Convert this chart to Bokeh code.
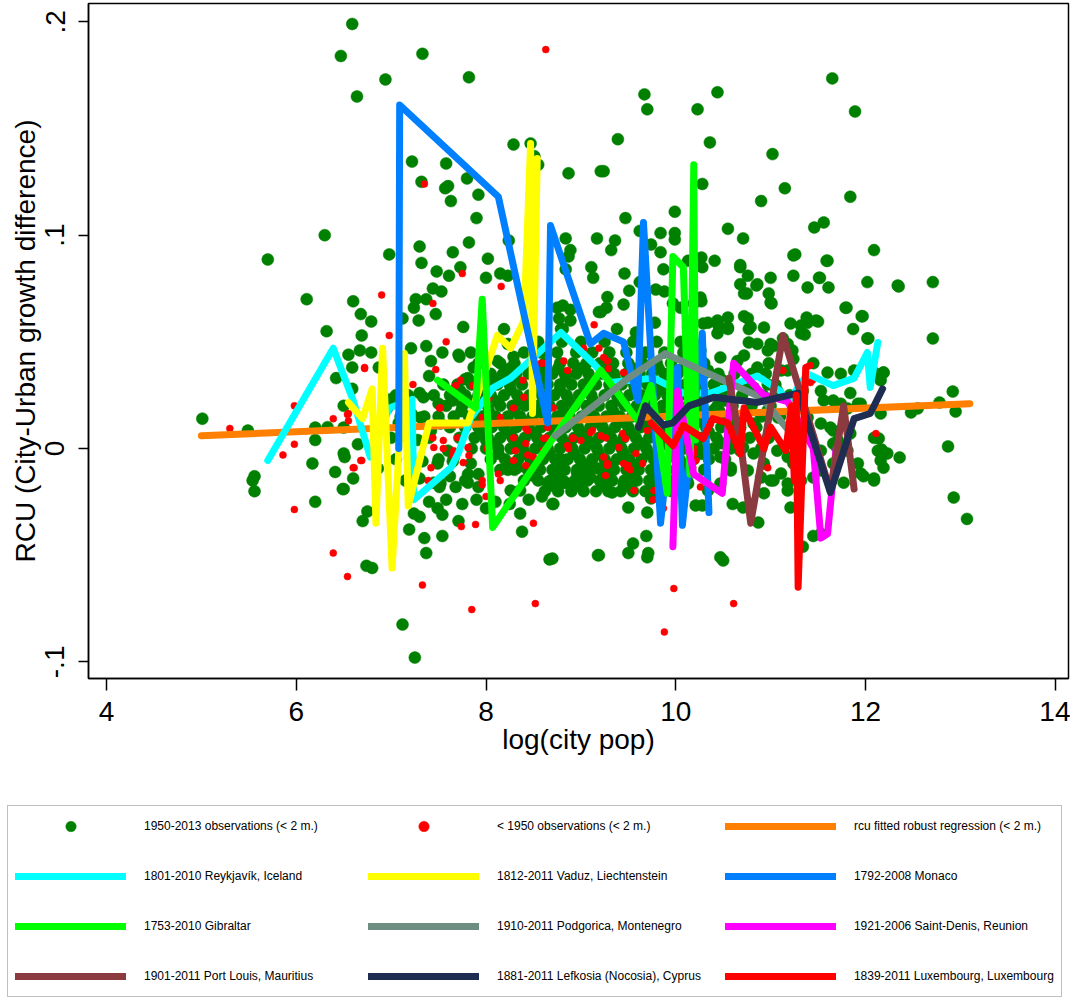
from bokeh.plotting import figure
from bokeh.models import Range1d, FixedTicker, Legend, LegendItem
from bokeh.embed import file_html
from bokeh.resources import INLINE

# ---------------- data (log city pop, RCU) ----------------
green_outer = [
    (6.59, 0.199), (6.47, 0.184), (7.33, 0.185), (6.94, 0.173), (7.82, 0.174), (6.64, 0.165),
    (8.29, 0.1425), (8.47, 0.143), (8.51, 0.137), (8.55, 0.133), (8.87, 0.129), (9.21, 0.130),
    (7.22, 0.1345), (7.58, 0.1336), (7.80, 0.1266), (7.60, 0.123), (7.57, 0.122), (7.92, 0.119),
    (7.63, 0.116), (7.90, 0.108), (6.30, 0.100), (5.70, 0.0886), (6.98, 0.091), (7.30, 0.0947),
    (7.82, 0.0966), (7.65, 0.092), (7.32, 0.087), (8.02, 0.089), (7.48, 0.083), (7.73, 0.085),
    (7.61, 0.081), (8.00, 0.080), (8.15, 0.082), (8.23, 0.081), (8.24, 0.0975), (8.84, 0.0985),
    (8.89, 0.093), (8.87, 0.090), (8.84, 0.084), (9.11, 0.085), (9.13, 0.080), (9.17, 0.0985),
    (7.44, 0.075), (7.53, 0.0736), (6.11, 0.070), (6.60, 0.069), (7.26, 0.070), (7.37, 0.070),
    (7.24, 0.066), (6.68, 0.063), (6.79, 0.0595), (7.29, 0.060), (7.47, 0.063), (7.12, 0.061),
    (6.32, 0.055), (6.69, 0.053), (7.76, 0.057), (8.19, 0.056), (8.81, 0.067), (8.89, 0.065),
    (8.77, 0.061), (8.89, 0.060), (8.81, 0.056), (9.19, 0.064), (7.32, 0.125),
    (9.67, 0.166), (9.70, 0.159), (10.23, 0.159), (10.44, 0.167), (9.39, 0.145), (10.36, 0.1435),
    (11.65, 0.1735), (11.89, 0.158), (11.02, 0.138), (9.24, 0.130), (10.28, 0.124), (11.15, 0.122),
    (10.90, 0.116), (11.84, 0.118), (9.99, 0.111), (9.47, 0.108), (10.55, 0.103), (10.71, 0.0985),
    (11.46, 0.1036), (11.56, 0.106), (9.99, 0.101), (9.99, 0.098), (9.84, 0.101), (9.36, 0.0975),
    (9.32, 0.093), (9.62, 0.102), (9.74, 0.0956), (9.84, 0.092), (12.09, 0.093), (11.26, 0.091),
    (11.59, 0.088), (10.41, 0.088), (10.28, 0.085), (10.27, 0.0895), (10.13, 0.088), (10.68, 0.085),
    (9.46, 0.082), (9.87, 0.084), (9.51, 0.074), (9.79, 0.0745), (9.88, 0.0736), (9.62, 0.078),
    (10.85, 0.0764), (10.75, 0.0727), (11.52, 0.080), (11.39, 0.0755), (11.61, 0.0755),
    (12.02, 0.078), (12.35, 0.076), (12.71, 0.078), (11.01, 0.068), (10.27, 0.069), (9.28, 0.071),
    (9.27, 0.066), (9.21, 0.064), (9.45, 0.0675), (9.97, 0.068), (11.80, 0.066), (11.96, 0.062),
    (10.72, 0.062), (10.79, 0.057), (11.21, 0.0586), (11.38, 0.0614), (11.50, 0.0595),
    (11.32, 0.0577), (11.36, 0.0534), (11.87, 0.056), (12.03, 0.0516), (12.71, 0.0516),
    (10.77, 0.0497), (11.00, 0.049), (10.45, 0.0577), (10.55, 0.056), (10.34, 0.059), (9.78, 0.059),
    (9.58, 0.0544), (9.38, 0.056), (8.79, 0.056),
]
green_right = [
    (12.92, 0.0267), (12.78, 0.0216), (12.48, 0.0169), (12.55, 0.0188), (12.95, 0.0173),
    (12.87, 0.001), (12.93, -0.023), (13.07, -0.033), (12.36, -0.0042), (12.19, -0.009),
    (12.09, -0.014), (11.98, -0.013), (12.17, -0.0005), (12.14, 0.0047), (12.19, 0.0356),
    (12.16, 0.032), (11.70, 0.0005), (11.77, -0.016), (11.53, -0.040), (11.45, -0.041),
    (11.34, -0.046), (11.18, -0.0197), (11.21, -0.0277), (11.11, -0.0117), (11.00, -0.015),
    (10.93, -0.021), (10.87, -0.0347), (10.79, -0.026), (10.71, -0.0277), (10.60, -0.026),
    (10.50, -0.0525), (10.47, -0.051), (9.50, -0.0277), (9.70, -0.030), (9.69, -0.041),
    (9.55, -0.0445), (9.50, -0.049), (9.70, -0.051), (9.71, -0.049), (9.19, -0.050), (8.70, -0.0516),
    (8.71, -0.026), (8.84, -0.016), (8.92, -0.016), (8.96, -0.0117), (9.07, -0.014), (9.24, -0.0173),
    (9.33, -0.0206), (9.45, -0.0164), (9.51, -0.0173), (9.76, -0.021), (9.74, -0.0234),
    (10.21, -0.0267), (10.28, -0.0267), (10.58, -0.0103), (10.71, 0.0005), (10.93, -0.007),
    (11.24, -0.007), (11.34, 0.027), (11.56, 0.0225), (11.63, 0.0098), (11.71, 0.0038),
    (11.74, 0.021), (11.81, 0.0188), (11.95, 0.021), (12.09, 0.0356),
    (11.24, 0.0905), (11.60, 0.088), (11.51, 0.080), (12.34, 0.0764), (11.79, 0.066),
    (11.97, 0.062), (11.39, 0.059), (11.48, 0.060), (11.32, 0.054), (12.02, 0.0516),
    (10.68, 0.086), (10.72, 0.0727), (11.00, 0.0684), (10.76, 0.061), (10.77, 0.056),
    (10.93, 0.0567), (11.13, 0.0516), (11.18, 0.049), (11.23, 0.046), (11.03, 0.048),
    (11.24, 0.042), (10.97, 0.046), (10.86, 0.049), (10.72, 0.0436), (10.65, 0.041),
    (10.86, 0.038), (10.98, 0.040), (11.11, 0.0366), (11.18, 0.0366), (11.45, 0.040),
    (11.60, 0.0356), (11.74, 0.035), (11.88, 0.0366), (12.19, 0.0356), (11.53, 0.027),
    (11.66, 0.0225), (11.84, 0.026), (11.92, 0.021), (12.16, 0.0164), (11.39, 0.0145),
    (11.53, 0.0117), (11.66, 0.0084), (11.84, 0.007), (12.09, 0.005), (12.13, -0.001),
    (12.16, -0.0056), (12.23, -0.0023), (11.53, -0.001), (11.66, 0.0023), (11.81, -0.001),
    (11.92, -0.007), (11.95, -0.0117), (12.09, -0.015), (11.66, -0.007), (11.53, -0.0103),
    (10.97, 0.030), (11.07, 0.027), (10.82, 0.0286), (10.97, 0.018), (11.08, 0.0145),
    (10.82, 0.0117), (10.68, 0.0098), (10.97, 0.005), (11.07, -0.001), (11.18, -0.004),
    (10.82, -0.0023), (10.68, -0.001), (10.76, -0.0103), (10.90, -0.0136), (11.03, -0.015),
    (11.18, -0.0164), (11.32, -0.015), (11.45, -0.0136), (10.47, -0.004), (10.58, -0.009),
    (10.47, -0.0164), (10.34, -0.0197), (10.13, -0.0164), (10.40, 0.018), (10.34, 0.0117),
    (10.26, 0.024), (10.19, 0.033), (10.34, 0.0366), (10.47, 0.0427), (10.26, 0.046),
    (10.13, 0.047), (10.44, 0.054), (10.29, 0.0586), (10.13, 0.0567), (10.05, 0.066),
    (10.19, 0.068), (10.26, 0.0708), (10.44, 0.060), (10.55, 0.0567), (10.55, 0.0614),
    (10.68, 0.077), (10.76, 0.081), (10.86, 0.077), (10.98, 0.0727), (11.00, 0.080), (11.24, 0.081),
]
green_left = [
    (5.01, 0.014), (5.49, 0.0084), (5.56, -0.013), (5.54, -0.015), (5.56, -0.020), (6.20, 0.004),
    (6.17, -0.007), (6.20, -0.025), (6.41, -0.011), (6.49, -0.019), (6.65, 0.002), (6.51, -0.004),
    (6.33, 0.010), (6.42, 0.033), (6.55, 0.044), (6.59, 0.038), (6.67, 0.046), (6.79, 0.045),
    (6.59, 0.028), (6.75, -0.0295), (6.70, -0.034), (6.74, -0.055), (6.80, -0.056),
    (7.12, -0.0825), (7.25, -0.098), (7.21, 0.047), (7.37, 0.048), (7.54, 0.045), (7.42, 0.041),
    (7.71, 0.044), (7.84, 0.045), (7.40, 0.034), (7.24, -0.0305), (7.30, -0.032), (7.19, -0.038),
    (7.35, -0.042), (7.37, -0.049), (7.54, -0.041), (7.49, -0.028), (7.54, -0.031), (7.71, -0.034),
    (7.68, -0.018), (7.51, -0.018), (7.81, -0.016), (7.92, -0.018), (8.00, -0.028), (8.26, -0.0197),
    (8.36, -0.0305), (8.38, -0.039), (8.59, -0.0225), (8.70, -0.026), (8.67, -0.052), (9.18, -0.050),
    (8.79, -0.005), (8.97, -0.011), (8.92, -0.016), (8.82, -0.016), (8.50, -0.0127), (8.65, -0.016),
    (9.10, -0.0136), (9.18, -0.0094), (7.84, -0.007), (7.81, -0.012), (8.23, -0.010), (8.33, -0.009),
    (7.60, -0.001), (7.66, -0.004), (8.00, 0.004), (6.50, 0.0098), (6.20, 0.0098), (6.50, -0.0023),
    (6.50, -0.019), (7.72, 0.043), (7.87, 0.038), (8.75, 0.066), (8.23, 0.049), (8.12, 0.041),
    (8.29, 0.043), (8.15, 0.033), (6.99, 0.023), (6.96, 0.019), (7.08, 0.012), (7.34, 0.024),
    (7.31, 0.0145), (7.50, 0.021), (7.52, 0.0117), (7.42, 0.0084), (7.65, 0.0225), (7.73, 0.027),
    (7.81, 0.033), (7.92, 0.040), (7.49, -0.007), (7.52, -0.0164), (8.36, -0.0197), (6.87, 0.038),
    (6.50, 0.020), (6.86, -0.0094), (6.60, -0.014),
    (7.05, 0.025), (7.18, 0.025), (7.30, 0.026), (7.10, 0.015), (7.22, 0.016), (7.35, 0.015),
    (7.00, 0.005), (7.15, 0.006), (7.28, 0.004), (7.40, 0.005), (7.05, -0.005), (7.20, -0.004),
    (7.33, -0.006), (7.50, -0.005), (7.65, -0.006), (7.15, -0.015), (7.30, -0.014), (7.45, -0.016),
    (7.62, -0.013), (7.78, -0.015), (7.92, -0.012), (7.40, -0.025), (7.58, -0.024), (7.75, -0.026),
    (7.90, -0.024), (8.10, -0.025), (8.25, -0.026), (8.45, -0.024),
]
# dense core: y level -> x values read along that band
core_rows = {
    0.050: [8.55, 8.80, 9.00, 9.25, 9.55, 9.80, 10.05],
    0.045: [8.40, 8.58, 8.75, 8.95, 9.12, 9.30, 9.48, 9.68, 9.88, 10.08],
    0.040: [8.15, 8.30, 8.48, 8.62, 8.78, 8.92, 9.06, 9.20, 9.34, 9.50, 9.65, 9.80, 9.95, 10.12, 10.30],
    0.0375: [8.25, 8.52, 8.76, 9.00, 9.27, 9.55, 9.82, 10.08],
    0.035: [8.05, 8.18, 8.32, 8.45, 8.58, 8.70, 8.83, 8.95, 9.08, 9.22, 9.35, 9.48, 9.62, 9.75, 9.88,
            10.02, 10.15, 10.30, 10.45, 10.62, 10.80, 10.95],
    0.0325: [7.78, 8.05, 8.31, 8.58, 8.84, 9.10, 9.36, 9.62, 9.90, 10.18, 10.48],
    0.030: [7.55, 7.70, 7.85, 7.98, 8.12, 8.25, 8.38, 8.52, 8.65, 8.78, 8.90, 9.03, 9.16, 9.30, 9.43,
            9.56, 9.70, 9.83, 9.97, 10.10, 10.25, 10.40, 10.57, 10.75, 11.05],
    0.0275: [7.68, 7.98, 8.26, 8.52, 8.78, 9.04, 9.31, 9.57, 9.84, 10.12, 10.42],
    0.025: [7.45, 7.62, 7.78, 7.92, 8.05, 8.19, 8.33, 8.46, 8.59, 8.72, 8.85, 8.98, 9.11, 9.25, 9.38,
            9.51, 9.64, 9.78, 9.91, 10.05, 10.20, 10.35, 10.52, 10.70, 10.92, 11.20],
    0.0225: [7.82, 8.09, 8.35, 8.61, 8.87, 9.13, 9.39, 9.66, 9.93, 10.21, 10.52],
    0.020: [7.58, 7.75, 7.88, 8.02, 8.15, 8.28, 8.41, 8.54, 8.67, 8.80, 8.93, 9.06, 9.19, 9.32, 9.46,
            9.59, 9.72, 9.86, 9.99, 10.13, 10.28, 10.44, 10.60, 10.80, 11.00],
    0.0175: [7.74, 8.03, 8.30, 8.56, 8.82, 9.08, 9.34, 9.61, 9.87, 10.15, 10.46],
    0.015: [7.50, 7.66, 7.82, 7.96, 8.10, 8.23, 8.36, 8.49, 8.62, 8.75, 8.88, 9.01, 9.14, 9.27, 9.41,
            9.54, 9.67, 9.80, 9.94, 10.08, 10.22, 10.38, 10.55, 10.72, 10.90, 11.10],
    0.0125: [7.86, 8.13, 8.39, 8.65, 8.91, 9.17, 9.43, 9.70, 9.97, 10.25, 10.56],
    0.010: [7.62, 7.78, 7.92, 8.06, 8.19, 8.32, 8.45, 8.58, 8.71, 8.84, 8.97, 9.10, 9.23, 9.36, 9.50,
            9.63, 9.76, 9.90, 10.03, 10.17, 10.32, 10.48, 10.65, 10.85],
    0.0075: [7.95, 8.22, 8.48, 8.74, 9.00, 9.26, 9.52, 9.79, 10.06, 10.35],
    0.005: [7.72, 7.88, 8.02, 8.15, 8.28, 8.41, 8.54, 8.67, 8.80, 8.93, 9.06, 9.19, 9.32, 9.45, 9.58,
            9.72, 9.85, 9.98, 10.12, 10.27, 10.43, 10.60, 10.78, 10.98],
    0.0025: [8.07, 8.33, 8.59, 8.85, 9.11, 9.37, 9.63, 9.89, 10.17, 10.48],
    0.000: [7.85, 8.00, 8.13, 8.26, 8.39, 8.52, 8.65, 8.78, 8.91, 9.04, 9.17, 9.30, 9.43, 9.56, 9.69,
            9.82, 9.95, 10.09, 10.24, 10.40, 10.58, 10.90],
    -0.0025: [8.13, 8.41, 8.67, 8.93, 9.19, 9.45, 9.71, 9.97, 10.27],
    -0.005: [8.05, 8.20, 8.34, 8.47, 8.60, 8.73, 8.86, 8.99, 9.12, 9.25, 9.38, 9.51, 9.64, 9.77, 9.90,
             10.04, 10.19, 10.35, 10.52],
    -0.0075: [8.24, 8.51, 8.77, 9.03, 9.29, 9.55, 9.81, 10.08],
    -0.010: [8.15, 8.30, 8.44, 8.57, 8.70, 8.83, 8.96, 9.09, 9.22, 9.35, 9.48, 9.61, 9.74, 9.87, 10.00,
             10.14, 10.30],
    -0.0125: [8.48, 8.75, 9.01, 9.27, 9.53, 9.79, 10.05],
    -0.015: [8.40, 8.55, 8.68, 8.81, 8.94, 9.07, 9.20, 9.33, 9.46, 9.59, 9.72, 9.85, 9.98, 10.12],
    -0.0175: [8.70, 8.97, 9.23, 9.49, 9.75, 9.90],
    -0.020: [8.62, 8.76, 8.90, 9.03, 9.16, 9.29, 9.42, 9.55, 9.68, 9.82, 9.96],
}
red_obs = [
    (8.63, 0.187), (7.35, 0.124), (9.14, 0.058), (7.75, 0.082), (8.16, 0.076), (6.90, 0.072),
    (7.44, 0.068), (6.98, 0.053), (7.58, 0.050), (6.72, 0.038), (7.47, 0.037), (7.23, 0.030),
    (6.39, 0.014), (6.55, 0.0164), (6.55, 0.013), (6.68, -0.0056), (6.60, -0.009), (7.52, 0.019),
    (7.68, 0.0295), (7.73, 0.032), (7.86, 0.0295), (7.87, 0.019), (7.96, 0.0145), (7.44, 0.005),
    (7.55, 0.0038), (7.55, 0.0), (7.45, 0.0005), (7.66, -0.001), (7.70, 0.005), (7.81, 0.0005),
    (7.82, -0.0033), (7.76, -0.0066), (7.65, -0.0033), (7.42, -0.009), (7.39, -0.015),
    (8.03, 0.0234), (8.15, 0.0145), (8.29, 0.019), (8.39, 0.032), (8.29, 0.005), (8.31, -0.001),
    (8.42, 0.0023), (8.44, 0.0084), (8.50, -0.004), (8.60, -0.001), (8.65, 0.0098), (8.63, 0.005),
    (8.86, 0.0014), (8.92, 0.005), (9.00, 0.0038), (9.10, 0.0075), (8.58, 0.040), (8.82, 0.041),
    (8.86, 0.0366), (9.03, 0.047), (8.13, -0.012), (8.15, -0.015), (7.96, -0.015), (7.96, -0.017),
    (8.29, -0.0056), (9.24, 0.0427), (9.28, 0.041), (9.29, 0.0375), (9.45, 0.0356), (9.21, 0.006),
    (9.26, 0.005), (9.40, 0.0005), (9.44, 0.007), (9.58, -0.0023), (9.24, -0.004), (9.28, -0.007),
    (9.45, -0.007), (9.49, -0.009), (9.65, -0.007), (9.56, -0.0197), (9.26, -0.0127), (9.77, -0.0197),
    (11.13, 0.0366), (12.11, 0.007), (10.97, -0.009), (11.42, 0.031), (10.19, -0.0023), (10.26, -0.018),
    (5.30, 0.0094), (5.86, -0.003), (5.98, 0.002), (5.98, 0.020), (5.98, -0.0286), (6.54, 0.016),
    (6.39, -0.049), (6.54, -0.060), (6.61, -0.009), (6.69, -0.0056), (6.72, 0.0375), (7.33, -0.064),
    (7.51, 0.019), (7.74, -0.0366), (7.89, -0.0356), (7.85, -0.0755), (8.00, -0.0225), (8.01, 0.0),
    (8.42, 0.0094), (8.40, 0.024), (8.50, -0.035), (8.52, -0.0727), (8.61, 0.0047), (8.91, 0.0047),
    (8.87, 0.0), (8.60, 0.040), (8.44, -0.003), (8.42, -0.008), (9.19, 0.047), (8.71, 0.019),
    (9.12, 0.0084), (9.47, 0.0047), (9.28, -0.008), (9.50, -0.008), (9.52, -0.010), (9.76, -0.024),
    (9.87, -0.028), (9.70, 0.0084), (9.98, -0.0656), (9.88, -0.086), (10.61, -0.0727), (10.19, 0.0),
    (10.21, -0.0056), (10.18, -0.009), (11.44, 0.032),
]

fit_x = [5.0, 13.1]
fit_y = [0.006, 0.021]

reykjavik_x = [5.70, 6.39, 6.60, 6.78, 6.98, 7.22, 7.24, 7.63, 7.71, 7.84, 8.08, 8.26, 8.79, 9.13,
               9.31, 9.77, 10.08, 10.37, 10.86, 11.10, 11.18, 11.39, 11.66, 11.88, 12.02, 12.05, 12.13]
reykjavik_y = [-0.0056, 0.047, 0.0225, -0.004, 0.019, 0.023, -0.024, -0.009, -0.002, 0.0145, 0.0286,
               0.033, 0.0544, 0.040, 0.031, 0.033, 0.026, 0.026, 0.034, 0.027, 0.0216, 0.035, 0.0295,
               0.033, 0.045, 0.0286, 0.0497]
vaduz_x = [6.55, 6.70, 6.80, 6.84, 6.91, 7.01, 7.14, 7.18, 7.40, 7.81, 8.12, 8.26, 8.40, 8.47, 8.49, 8.54]
vaduz_y = [0.0216, 0.014, 0.028, -0.035, 0.047, -0.056, 0.0445, -0.027, 0.012, 0.012, 0.053, 0.047,
           0.060, 0.143, 0.0164, 0.136]
monaco_x = [7.08, 7.09, 8.13, 8.65, 8.68, 9.10, 9.24, 9.45, 9.60, 9.66, 9.84, 10.02, 10.07, 10.28, 10.35]
monaco_y = [0.0, 0.161, 0.118, 0.012, 0.1045, 0.049, 0.054, 0.050, 0.0225, 0.106, -0.035, 0.038,
            -0.036, 0.054, -0.030]
gibraltar_x = [7.49, 7.89, 7.96, 8.07, 8.71, 9.21, 9.60, 9.74, 9.91, 9.97, 10.08, 10.15, 10.19, 10.21]
gibraltar_y = [0.032, 0.019, 0.070, -0.037, 0.005, 0.0366, 0.013, 0.0295, -0.021, 0.090, 0.085,
               -0.012, 0.133, 0.004]
podgorica_x = [8.73, 9.21, 9.50, 9.89, 10.40, 10.90, 11.20, 11.30]
podgorica_y = [0.006, 0.0225, 0.033, 0.0445, 0.034, 0.024, 0.008, 0.0]
saintdenis_x = [9.97, 10.02, 10.19, 10.49, 10.61, 10.93, 11.18, 11.45, 11.53, 11.60, 11.69]
saintdenis_y = [-0.046, 0.027, -0.012, -0.021, 0.040, 0.025, 0.022, 0.0, -0.042, -0.040, 0.0]
portlouis_x = [10.56, 10.70, 10.79, 11.13, 11.63, 11.77, 11.88]
portlouis_y = [0.033, -0.003, -0.035, 0.053, -0.020, 0.020, -0.019]
lefkosia_x = [9.61, 9.68, 9.87, 9.97, 10.14, 10.40, 10.86, 11.29, 11.32, 11.63, 11.88, 12.05, 12.18]
lefkosia_y = [0.010, 0.020, 0.011, 0.012, 0.020, 0.024, 0.0216, 0.026, 0.022, -0.0206, 0.014,
              0.0164, 0.028]
luxembourg_x = [9.74, 9.97, 10.08, 10.29, 10.39, 10.55, 10.68, 10.72, 10.93, 11.00, 11.16, 11.22,
                11.25, 11.27, 11.29, 11.37, 11.42]
luxembourg_y = [0.012, 0.0014, 0.0108, 0.0047, 0.014, 0.012, -0.0025, 0.019, 0.0, 0.010, -0.001,
                0.020, -0.015, 0.025, -0.065, 0.038, 0.039]

series = [
    ("1801-2010 Reykjavík, Iceland", reykjavik_x, reykjavik_y, "#00FFFF"),
    ("1812-2011 Vaduz, Liechtenstein", vaduz_x, vaduz_y, "#FFFF00"),
    ("1792-2008 Monaco", monaco_x, monaco_y, "#0080FF"),
    ("1753-2010 Gibraltar", gibraltar_x, gibraltar_y, "#00FF00"),
    ("1910-2011 Podgorica, Montenegro", podgorica_x, podgorica_y, "#6E8E82"),
    ("1921-2006 Saint-Denis, Reunion", saintdenis_x, saintdenis_y, "#FF00FF"),
    ("1901-2011 Port Louis, Mauritius", portlouis_x, portlouis_y, "#8B3A40"),
    ("1881-2011 Lefkosia (Nocosia), Cyprus", lefkosia_x, lefkosia_y, "#1F2D52"),
    ("1839-2011 Luxembourg, Luxembourg", luxembourg_x, luxembourg_y, "#FF0000"),
]
green_label = "1950-2013 observations (< 2 m.)"
red_label = "< 1950 observations (< 2 m.)"
fit_label = "rcu fitted robust regression (< 2 m.)"

# ---------------- build point arrays ----------------
gx, gy = [], []
for pts in (green_outer, green_right, green_left):
    for x, y in pts:
        gx.append(x); gy.append(y)
for yl, xs in core_rows.items():
    for x in xs:
        gx.append(x); gy.append(yl)
rx = [a for a, b in red_obs]
ry = [b for a, b in red_obs]

FONT = "Liberation Sans"
GREEN = "#008000"
RED = "#FF0000"
ORANGE = "#FF8000"


def draw_all(fig):
    rg = fig.scatter(gx, gy, size=12, fill_color=GREEN, line_color=GREEN, line_width=0.5)
    rr = fig.scatter(rx, ry, size=7, fill_color=RED, line_color=RED, line_width=0.5)
    rf = fig.line(fit_x, fit_y, line_width=7, color=ORANGE, line_cap="round", line_join="round")
    rl = [fig.line(xs, ys, line_width=7, color=col, line_cap="round", line_join="round")
          for name, xs, ys, col in series]
    return rg, rr, rf, rl


# ---------------- main plot ----------------
p = figure(width=1070, height=790, x_range=Range1d(3.81, 14.14), y_range=Range1d(-0.1078, 0.2086),
           output_backend="svg", toolbar_location=None,
           min_border_left=88, min_border_right=2, min_border_top=3, min_border_bottom=112)
p.xgrid.visible = False
p.ygrid.visible = False
p.outline_line_color = "black"
p.outline_line_width = 1.5
p.background_fill_color = "white"
p.border_fill_color = "white"

for ax in (p.xaxis, p.yaxis):
    ax.axis_line_width = 1.5
    ax.axis_line_color = "black"
    ax.major_tick_line_width = 1.5
    ax.major_tick_line_color = "black"
    ax.minor_tick_line_color = None
    ax.major_tick_in = 0
    ax.major_label_text_font = FONT
    ax.major_label_text_font_size = "28px"
    ax.major_label_text_color = "black"
    ax.axis_label_text_font = FONT
    ax.axis_label_text_font_size = "28px"
    ax.axis_label_text_font_style = "normal"
    ax.axis_label_text_color = "black"

p.xaxis.ticker = FixedTicker(ticks=[4, 6, 8, 10, 12, 14])
p.xaxis.major_tick_out = 12
p.xaxis.major_label_standoff = 11
p.xaxis.axis_label = "log(city pop)"
p.xaxis.axis_label_standoff = 0

p.yaxis.ticker = FixedTicker(ticks=[-0.1, 0, 0.1, 0.2])
p.yaxis.major_label_overrides = {-0.1: "-.1", 0: "0", 0.1: ".1", 0.2: ".2"}
p.yaxis.major_label_orientation = "vertical"
p.yaxis.major_tick_out = 10
p.yaxis.major_label_standoff = 14
p.yaxis.axis_label = "RCU (City-Urban growth difference)"
p.yaxis.axis_label_standoff = 2

draw_all(p)

# ---------------- legend panel (same series, view window off the data) ----------------
leg = figure(width=1070, height=208, x_range=Range1d(100, 101), y_range=Range1d(100, 101),
             output_backend="svg", toolbar_location=None, x_axis_location=None, y_axis_location=None,
             min_border_left=0, min_border_right=0, min_border_top=0, min_border_bottom=0)
leg.xgrid.visible = False
leg.ygrid.visible = False
leg.outline_line_color = None
leg.background_fill_color = "white"
leg.border_fill_color = "white"

lg, lr, lf, ll = draw_all(leg)
items = [LegendItem(label=green_label, renderers=[lg]),
         LegendItem(label=red_label, renderers=[lr]),
         LegendItem(label=fit_label, renderers=[lf])]
for (name, xs, ys, col), r in zip(series, ll):
    items.append(LegendItem(label=name, renderers=[r]))

legend = Legend(items=items, location=(7, 1), orientation="horizontal", ncols=3,
                glyph_width=111, glyph_height=26, label_standoff=18, spacing=24, padding=7,
                label_width=200, label_text_font=FONT, label_text_font_size="12px",
                label_text_color="black", border_line_color="#7F7F7F", border_line_width=1,
                background_fill_color="white", background_fill_alpha=1.0, margin=0)
leg.add_layout(legend)

# two independent roots, stacked on the page
open("out.html", "w").write(file_html([p, leg], INLINE))
